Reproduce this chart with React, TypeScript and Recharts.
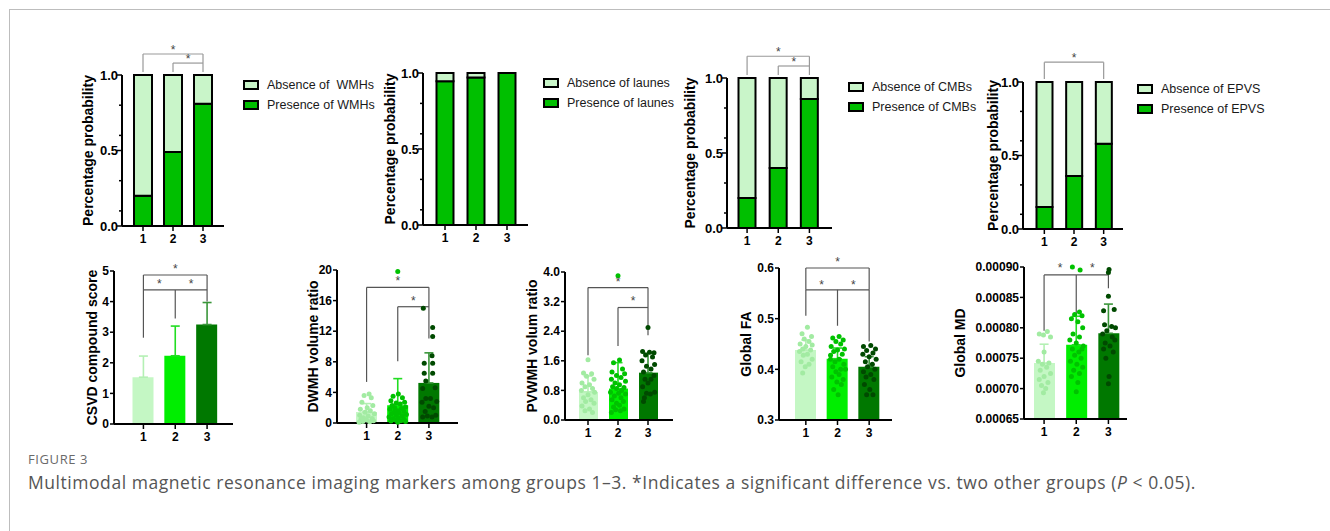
import {
  ComposedChart,
  Bar,
  Scatter,
  ErrorBar,
  XAxis,
  YAxis,
  ReferenceLine,
  ReferenceDot,
  Legend,
  Cell,
} from 'recharts'

const FONT = 'Arial, "Liberation Sans", Helvetica, sans-serif'

const groups = ['1', '2', '3']
const groupPos = [1, 2, 3]

// ---- top row: share of patients with / without each marker ----
const wmhPresence = [0.2, 0.49, 0.81]
const wmhAbsence = [0.8, 0.51, 0.19]
const lacunePresence = [0.945, 0.97, 1.0]
const lacuneAbsence = [0.055, 0.03, 0]
const cmbPresence = [0.2, 0.4, 0.86]
const cmbAbsence = [0.8, 0.6, 0.14]
const epvsPresence = [0.15, 0.36, 0.58]
const epvsAbsence = [0.85, 0.64, 0.42]

const probTicks = [0, 0.1, 0.3, 0.5, 0.6, 0.8, 1]
const probMajor = [0, 0.5, 1]

// ---- bottom row: group means, SD (upper arm only) and individual values ----
const csvdMean = [1.53, 2.23, 3.25]
const csvdSd = [0.69, 0.97, 0.72]

const dwmhMean = [1.44, 2.32, 5.24]
const dwmhSd = [1.1, 3.48, 3.93]
const dwmhG1: [number, number][] = [
  [1.08, 3.8], [0.92, 3.6], [1.15, 3.3], [0.85, 2.7], [1.2, 2.3], [1.02, 2.0], [0.8, 1.8],
  [1.12, 1.6], [0.95, 1.4], [1.25, 1.2], [0.78, 1.0], [1.05, 0.9], [0.9, 0.7], [1.18, 0.6],
  [0.82, 0.5], [1.0, 0.4], [1.22, 0.3], [0.88, 0.2], [1.1, 0.15], [0.76, 0.1],
]
const dwmhG2: [number, number][] = [
  [2.0, 19.8], [2.02, 3.8], [1.85, 3.5], [2.15, 3.3], [1.78, 2.9], [2.22, 2.7], [1.95, 2.6],
  [2.08, 2.5], [1.82, 2.3], [2.25, 2.1], [1.9, 2.0], [2.12, 1.9], [1.75, 1.8], [2.0, 1.6],
  [2.2, 1.5], [1.88, 1.4], [2.05, 1.3], [1.8, 1.2], [2.28, 1.1], [1.95, 1.0], [2.15, 0.9],
  [1.72, 0.8], [2.02, 0.7], [1.85, 0.6], [2.2, 0.5], [1.92, 0.4], [2.1, 0.3], [1.78, 0.25],
  [2.25, 0.2], [2.0, 0.1],
]
const dwmhG3: [number, number][] = [
  [2.82, 15.0], [3.12, 12.5], [3.12, 11.3], [3.1, 8.8], [2.85, 7.8], [3.12, 7.8], [2.85, 6.5],
  [3.12, 6.5], [2.9, 5.5], [3.2, 4.6], [2.8, 4.5], [2.9, 3.2], [3.05, 3.2], [3.25, 2.8],
  [2.78, 2.7], [3.0, 2.2], [3.15, 2.0], [2.88, 1.5], [3.22, 1.0], [2.95, 0.9], [2.8, 0.8],
  [3.1, 0.8],
]

const pvwmhMean = [0.76, 0.85, 1.28]
const pvwmhSd = [0.43, 0.7, 0.52]
const pvwmhG1: [number, number][] = [
  [1.0, 1.63], [0.85, 1.27], [1.12, 1.25], [0.95, 1.18], [1.2, 1.1], [0.8, 1.0], [1.05, 0.95],
  [0.9, 0.9], [1.15, 0.85], [0.78, 0.8], [1.22, 0.75], [1.0, 0.68], [0.85, 0.6], [1.1, 0.55],
  [0.92, 0.5], [1.2, 0.45], [0.8, 0.38], [1.05, 0.3], [0.9, 0.25], [1.15, 0.2],
]
const pvwmhG2: [number, number][] = [
  [2.0, 3.9], [2.05, 1.62], [1.85, 1.55], [2.15, 1.38], [1.8, 1.3], [2.22, 1.25], [1.95, 1.2],
  [2.1, 1.15], [1.78, 1.1], [2.25, 1.05], [1.9, 1.0], [2.05, 0.95], [1.82, 0.9], [2.2, 0.88],
  [1.95, 0.85], [2.12, 0.8], [1.75, 0.75], [2.02, 0.72], [2.25, 0.7], [1.88, 0.65], [2.1, 0.6],
  [1.8, 0.55], [2.18, 0.5], [1.95, 0.45], [2.05, 0.4], [1.85, 0.35], [2.2, 0.3], [1.92, 0.28],
  [2.08, 0.25], [1.78, 0.2],
]
const pvwmhG3: [number, number][] = [
  [3.0, 2.5], [2.82, 1.85], [3.05, 1.83], [3.2, 1.82], [2.92, 1.76], [3.15, 1.7], [2.8, 1.6],
  [3.22, 1.5], [2.95, 1.45], [3.1, 1.38], [2.85, 1.3], [3.2, 1.2], [2.9, 1.1], [3.1, 1.1],
  [3.0, 1.0], [2.82, 0.9], [3.22, 0.75], [2.95, 0.72], [3.08, 0.7], [2.88, 0.6], [2.85, 0.5],
]

const faMean = [0.438, 0.421, 0.405]
const faSd = [0.02, 0.021, 0.02]
const faG1: [number, number][] = [
  [1.05, 0.483], [0.88, 0.47], [1.18, 0.465], [0.95, 0.46], [1.1, 0.455], [0.82, 0.45],
  [1.2, 0.448], [1.0, 0.445], [0.9, 0.44], [1.15, 0.438], [0.8, 0.435], [1.05, 0.43],
  [0.92, 0.428], [1.2, 0.42], [0.85, 0.415], [1.1, 0.41], [0.98, 0.405], [0.9, 0.393],
]
const faG2: [number, number][] = [
  [2.05, 0.465], [1.85, 0.462], [2.18, 0.458], [1.95, 0.455], [2.1, 0.45], [1.8, 0.445],
  [2.22, 0.44], [2.0, 0.438], [1.88, 0.435], [2.15, 0.43], [1.78, 0.428], [2.05, 0.42],
  [1.92, 0.415], [2.2, 0.41], [1.85, 0.405], [2.1, 0.4], [1.95, 0.395], [2.05, 0.39],
  [1.82, 0.385], [2.18, 0.38], [1.98, 0.375], [2.12, 0.37], [1.88, 0.36], [2.02, 0.35],
  [2.25, 0.4], [1.78, 0.42],
]
const faG3: [number, number][] = [
  [3.05, 0.447], [2.82, 0.445], [3.2, 0.44], [2.92, 0.437], [3.12, 0.432], [2.8, 0.43],
  [3.0, 0.425], [3.22, 0.42], [2.88, 0.415], [3.1, 0.41], [2.95, 0.405], [3.18, 0.4],
  [2.82, 0.395], [3.05, 0.39], [2.9, 0.385], [3.15, 0.38], [2.85, 0.37], [3.02, 0.36],
  [2.92, 0.35], [3.12, 0.35],
]

const mdMean = [0.000742, 0.000772, 0.000791]
const mdSd = [0.000031, 0.000047, 0.000048]
const mdG1: [number, number][] = [
  [1.1, 0.000794], [0.85, 0.00079], [0.98, 0.000788], [1.2, 0.000785], [1.0, 0.00076],
  [0.82, 0.000745], [1.15, 0.000742], [0.95, 0.00074], [1.08, 0.000735], [0.88, 0.00073],
  [1.2, 0.000725], [1.0, 0.00072], [0.85, 0.000715], [1.12, 0.00071], [0.92, 0.000705],
  [1.05, 0.0007], [0.98, 0.000693],
]
const mdG2: [number, number][] = [
  [1.88, 0.0009], [2.12, 0.000895], [2.1, 0.000826], [1.95, 0.000822], [2.18, 0.00082],
  [1.85, 0.000815], [2.05, 0.00081], [2.2, 0.0008], [1.9, 0.00079], [2.1, 0.000785],
  [1.8, 0.00078], [2.0, 0.000775], [2.22, 0.00077], [1.88, 0.000765], [2.08, 0.00076],
  [1.95, 0.000755], [2.15, 0.00075], [1.82, 0.000745], [2.02, 0.00074], [2.2, 0.000735],
  [1.92, 0.00073], [2.1, 0.000725], [1.85, 0.00072], [2.05, 0.00071], [2.0, 0.000695],
  [2.18, 0.000765],
]
const mdG3: [number, number][] = [
  [3.02, 0.000896], [3.0, 0.000891], [3.0, 0.000852], [3.18, 0.00083], [2.85, 0.000828],
  [2.88, 0.000805], [3.1, 0.000802], [3.22, 0.0008], [2.95, 0.000795], [2.82, 0.00079],
  [3.12, 0.000785], [3.2, 0.00078], [2.9, 0.000775], [3.05, 0.00077], [2.85, 0.000765],
  [3.15, 0.00076], [2.92, 0.00075], [3.02, 0.00072], [3.0, 0.000708],
]

// significance brackets: [x1, y1, x2, y2] in group / value units, stars: [x, y]
type Seg = [number, number, number, number]
type Star = [number, number]

const wmhSegs: Seg[] = [[1, 1.02, 1, 1.139], [1, 1.139, 3, 1.139], [3, 1.139, 3, 1.02], [2, 1.02, 2, 1.079], [2, 1.079, 3, 1.079]]
const wmhStars: Star[] = [[2, 1.17], [2.5, 1.108]]
const cmbSegs: Seg[] = [[1, 1.02, 1, 1.145], [1, 1.145, 3, 1.145], [3, 1.145, 3, 1.02], [2, 1.02, 2, 1.08], [2, 1.08, 3, 1.08]]
const cmbStars: Star[] = [[2, 1.175], [2.5, 1.11]]
const epvsSegs: Seg[] = [[1, 1.02, 1, 1.135], [1, 1.135, 3, 1.135], [3, 1.135, 3, 1.02]]
const epvsStars: Star[] = [[2, 1.168]]

const csvdSegs: Seg[] = [
  [1, 4.38, 1, 4.87], [1, 4.87, 3, 4.87], [3, 4.87, 3, 4.38],
  [1, 2.82, 1, 4.38], [1, 4.38, 3, 4.38], [2, 3.45, 2, 4.38], [3, 4.0, 3, 4.38],
]
const csvdStars: Star[] = [[2, 5.07], [1.5, 4.57], [2.5, 4.57]]
const dwmhSegs: Seg[] = [[1, 5.37, 1, 17.73], [1, 17.73, 3, 17.73], [3, 17.73, 3, 11.05], [2, 8.08, 2, 15.2], [2, 15.2, 3, 15.2]]
const dwmhStars: Star[] = [[2, 18.6], [2.5, 16.0]]
const pvwmhSegs: Seg[] = [[1, 1.75, 1, 3.58], [1, 3.58, 3, 3.58], [3, 3.58, 3, 2.29], [2, 2.0, 2, 3.04], [2, 3.04, 3, 3.04]]
const pvwmhStars: Star[] = [[2, 3.75], [2.5, 3.21]]
const faSegs: Seg[] = [
  [1, 0.557, 1, 0.6], [1, 0.6, 3, 0.6], [3, 0.6, 3, 0.557],
  [1, 0.506, 1, 0.557], [1, 0.557, 3, 0.557], [2, 0.486, 2, 0.557], [3, 0.455, 3, 0.557],
]
const faStars: Star[] = [[2, 0.612], [1.5, 0.567], [2.5, 0.567]]
const mdSegs: Seg[] = [[1, 0.000795, 1, 0.000887], [1, 0.000887, 3, 0.000887], [2, 0.00082, 2, 0.000887], [3, 0.000865, 3, 0.000887]]
const mdStars: Star[] = [[1.5, 0.000898], [2.5, 0.000898]]

// colours
const PRESENT = '#00BF00'
const ABSENT = '#C9F5C9'
const BAR_FILL = ['#C4F7C4', '#00EE00', '#007800']
const DOT_FILL = ['#A2EBA2', '#00C200', '#004A00']
const ERR_STROKE = ['#B4F0B4', '#22DD22', '#3A963A']

type Frame = { x: number; y: number; w: number; h: number; padL: number; padR: number; bar: number; titleGap: number }

const LEFT = 80
const TOP = 46
const XAXIS_H = 26

const tickStyle = { fontSize: 12, fontWeight: 700, fill: '#000' }
const titleLabel = (value: string, f: Frame, size = 14) => ({
  value,
  angle: -90,
  position: 'insideLeft' as const,
  offset: LEFT - f.titleGap,
  fontSize: size,
  fontWeight: 700,
  fill: '#000',
  style: { textAnchor: 'middle' },
})

function bracketMarks(segs: Seg[], stars: Star[], color: string) {
  return [
    ...segs.map((s, i) => (
      <ReferenceLine
        key={`seg${i}`}
        xAxisId="num"
        segment={[{ x: s[0], y: s[1] }, { x: s[2], y: s[3] }]}
        stroke={color}
        strokeWidth={1.2}
        ifOverflow="visible"
      />
    )),
    ...stars.map((s, i) => (
      <ReferenceDot
        key={`star${i}`}
        xAxisId="num"
        x={s[0]}
        y={s[1]}
        r={0}
        fill="none"
        stroke="none"
        ifOverflow="visible"
        label={{ value: '*', position: 'center', fontSize: 12, fill: '#444' }}
      />
    )),
  ]
}

function ProbTick(props: any) {
  const { x, y, payload } = props
  const ax = x + 6 // tickSize + tickMargin -> back on the axis line
  const major = probMajor.includes(payload.value)
  return (
    <g>
      <line x1={ax - (major ? 5 : 3)} x2={ax} y1={y} y2={y} stroke="#000" strokeWidth={1.5} />
      {major && (
        <text x={ax - 4} y={y} dy={4.5} textAnchor="end" fontSize={13} fontWeight={700} fill="#000">
          {payload.value.toFixed(1)}
        </text>
      )}
    </g>
  )
}

function StackLegend(props: any) {
  const items = props.payload ?? []
  return (
    <div>
      {items.map((it: any) => (
        <div key={it.value} style={{ display: 'flex', alignItems: 'center', height: 20 }}>
          <svg width={16} height={10}>
            <rect x={1} y={1} width={14} height={8} fill={it.color} stroke="#000" strokeWidth={2} />
          </svg>
          <span style={{ marginLeft: 8, fontSize: 12.5, color: '#1a1a1a', whiteSpace: 'pre' }}>{it.value}</span>
        </div>
      ))}
    </div>
  )
}

interface StackPanelProps {
  f: Frame
  presence: number[]
  absence: number[]
  presentName: string
  absentName: string
  segs: Seg[]
  stars: Star[]
  legendAt: [number, number]
}

function StackPanel({ f, presence, absence, presentName, absentName, segs, stars, legendAt }: StackPanelProps) {
  const RIGHT = 170
  const rows = groups.map((g, i) => ({ g, present: presence[i], absent: absence[i] }))
  const left = f.x - LEFT
  const top = f.y - TOP
  return (
    <div style={{ position: 'absolute', left, top }}>
      <ComposedChart
        width={LEFT + f.w + RIGHT}
        height={TOP + f.h + XAXIS_H + 4}
        data={rows}
        margin={{ top: TOP, right: RIGHT, bottom: 4, left: 0 }}
      >
        <XAxis
          xAxisId="cat"
          dataKey="g"
          height={XAXIS_H}
          padding={{ left: f.padL, right: f.padR }}
          tick={tickStyle}
          tickSize={5}
          tickMargin={3}
          tickLine={{ stroke: '#000', strokeWidth: 1.5 }}
          axisLine={{ stroke: '#000', strokeWidth: 2 }}
        />
        <XAxis xAxisId="num" type="number" dataKey="x" domain={[0.5, 3.5]} allowDataOverflow hide padding={{ left: f.padL, right: f.padR }} />
        <YAxis
          width={LEFT}
          domain={[0, 1]}
          ticks={probTicks}
          interval={0}
          tick={(p: any) => <ProbTick {...p} />}
          tickSize={4}
          tickMargin={2}
          tickLine={false}
          axisLine={{ stroke: '#000', strokeWidth: 2 }}
          label={titleLabel('Percentage probability', f)}
        />
        <Bar xAxisId="cat" dataKey="present" name={presentName} stackId="s" fill={PRESENT} stroke="#000" strokeWidth={2} barSize={f.bar} isAnimationActive={false} />
        <Bar xAxisId="cat" dataKey="absent" name={absentName} stackId="s" fill={ABSENT} stroke="#000" strokeWidth={2} barSize={f.bar} isAnimationActive={false} />
        {bracketMarks(segs, stars, '#999')}
        <Legend
          layout="horizontal"
          verticalAlign="middle"
          align="center"
          content={(p: any) => <StackLegend {...p} />}
          wrapperStyle={{ left: legendAt[0] - left, top: legendAt[1] - top, width: 170, height: 40 }}
        />
      </ComposedChart>
    </div>
  )
}

interface DotPanelProps {
  f: Frame
  title: string
  mean: number[]
  sd: number[]
  points: [number, number][][]
  domain: [number, number]
  ticks: number[]
  fmt: (v: number) => string
  segs: Seg[]
  stars: Star[]
}

function DotPanel({ f, title, mean, sd, points, domain, ticks, fmt, segs, stars }: DotPanelProps) {
  const RIGHT = 12
  const rows = groups.map((g, i) => ({ g, mean: mean[i] }))
  return (
    <div style={{ position: 'absolute', left: f.x - LEFT, top: f.y - TOP }}>
      <ComposedChart
        width={LEFT + f.w + RIGHT}
        height={TOP + f.h + XAXIS_H + 4}
        data={rows}
        margin={{ top: TOP, right: RIGHT, bottom: 4, left: 0 }}
      >
        <XAxis
          xAxisId="cat"
          dataKey="g"
          height={XAXIS_H}
          padding={{ left: f.padL, right: f.padR }}
          tick={tickStyle}
          tickSize={5}
          tickMargin={3}
          tickLine={{ stroke: '#000', strokeWidth: 1.5 }}
          axisLine={{ stroke: '#000', strokeWidth: 2 }}
        />
        <XAxis xAxisId="num" type="number" dataKey="x" domain={[0.5, 3.5]} allowDataOverflow hide padding={{ left: f.padL, right: f.padR }} />
        <YAxis
          width={LEFT}
          type="number"
          domain={domain}
          ticks={ticks}
          interval={0}
          tickFormatter={fmt}
          tick={tickStyle}
          tickSize={4}
          tickMargin={1}
          tickLine={{ stroke: '#000', strokeWidth: 1.5 }}
          axisLine={{ stroke: '#000', strokeWidth: 2 }}
          label={titleLabel(title, f)}
        />
        <Bar xAxisId="cat" dataKey="mean" barSize={f.bar} isAnimationActive={false}>
          {groups.map((g, i) => (
            <Cell key={g} fill={BAR_FILL[i]} />
          ))}
        </Bar>
        {groupPos.map((x, i) => (
          <Scatter
            key={`err${i}`}
            xAxisId="num"
            dataKey="y"
            data={[{ x, y: mean[i], err: [0, sd[i]] }]}
            shape={() => <g />}
            isAnimationActive={false}
          >
            <ErrorBar dataKey="err" direction="y" width={4.5} stroke={ERR_STROKE[i]} strokeWidth={1.6} isAnimationActive={false} />
          </Scatter>
        ))}
        {points.map((pts, i) => (
          <Scatter
            key={`pts${i}`}
            xAxisId="num"
            dataKey="y"
            data={pts.map(([x, y]) => ({ x, y }))}
            shape={(p: any) => <circle cx={p.cx} cy={p.cy} r={2.5} fill={DOT_FILL[i]} />}
            isAnimationActive={false}
          />
        ))}
        {bracketMarks(segs, stars, '#555')}
      </ComposedChart>
    </div>
  )
}

const wmhFrame: Frame = { x: 122, y: 75, w: 102, h: 151, padL: 6, padR: 6, bar: 18, titleGap: 34 }
const lacuneFrame: Frame = { x: 423, y: 73, w: 105, h: 152, padL: 6.5, padR: 5.5, bar: 17, titleGap: 33 }
const cmbFrame: Frame = { x: 727, y: 78, w: 105, h: 150, padL: 4.5, padR: 7, bar: 17, titleGap: 37 }
const epvsFrame: Frame = { x: 1023, y: 82, w: 100, h: 147, padL: 6.5, padR: 4.5, bar: 16, titleGap: 30 }

const csvdFrame: Frame = { x: 114, y: 271, w: 119, h: 153, padL: 13.5, padR: 10, bar: 21, titleGap: 22 }
const dwmhFrame: Frame = { x: 337, y: 270, w: 121, h: 153, padL: 14, padR: 13.5, bar: 21, titleGap: 24 }
const pvwmhFrame: Frame = { x: 565, y: 272, w: 108, h: 148, padL: 8, padR: 10, bar: 19, titleGap: 33 }
const faFrame: Frame = { x: 779, y: 268, w: 113, h: 152, padL: 11, padR: 7, bar: 21, titleGap: 33 }
const mdFrame: Frame = { x: 1024, y: 267, w: 103, h: 152, padL: 4, padR: 2.5, bar: 21, titleGap: 64 }

export default function App() {
  return (
    <div style={{ position: 'absolute', left: 0, top: 0, width: 1330, height: 531, background: '#fff', fontFamily: FONT, overflow: 'hidden' }}>
      <div style={{ position: 'absolute', left: 9, top: 9, width: 1330, height: 531, borderTop: '1px solid #bdbdbd', borderLeft: '1px solid #bdbdbd' }} />

      <StackPanel f={wmhFrame} presence={wmhPresence} absence={wmhAbsence} presentName="Presence of WMHs" absentName="Absence of  WMHs" segs={wmhSegs} stars={wmhStars} legendAt={[243, 75]} />
      <StackPanel f={lacuneFrame} presence={lacunePresence} absence={lacuneAbsence} presentName="Presence of launes" absentName="Absence of launes" segs={[]} stars={[]} legendAt={[543, 73]} />
      <StackPanel f={cmbFrame} presence={cmbPresence} absence={cmbAbsence} presentName="Presence of CMBs" absentName="Absence of CMBs" segs={cmbSegs} stars={cmbStars} legendAt={[848, 77]} />
      <StackPanel f={epvsFrame} presence={epvsPresence} absence={epvsAbsence} presentName="Presence of EPVS" absentName="Absence of EPVS" segs={epvsSegs} stars={epvsStars} legendAt={[1137, 79]} />

      <DotPanel f={csvdFrame} title="CSVD compound score" mean={csvdMean} sd={csvdSd} points={[]} domain={[0, 5]} ticks={[0, 1, 2, 3, 4, 5]} fmt={(v) => String(v)} segs={csvdSegs} stars={csvdStars} />
      <DotPanel f={dwmhFrame} title="DWMH volume ratio" mean={dwmhMean} sd={dwmhSd} points={[dwmhG1, dwmhG2, dwmhG3]} domain={[0, 20]} ticks={[0, 4, 8, 12, 16, 20]} fmt={(v) => String(v)} segs={dwmhSegs} stars={dwmhStars} />
      <DotPanel f={pvwmhFrame} title="PVWMH volum ratio" mean={pvwmhMean} sd={pvwmhSd} points={[pvwmhG1, pvwmhG2, pvwmhG3]} domain={[0, 4]} ticks={[0, 0.8, 1.6, 2.4, 3.2, 4]} fmt={(v) => v.toFixed(1)} segs={pvwmhSegs} stars={pvwmhStars} />
      <DotPanel f={faFrame} title="Global FA" mean={faMean} sd={faSd} points={[faG1, faG2, faG3]} domain={[0.3, 0.6]} ticks={[0.3, 0.4, 0.5, 0.6]} fmt={(v) => v.toFixed(1)} segs={faSegs} stars={faStars} />
      <DotPanel f={mdFrame} title="Global MD" mean={mdMean} sd={mdSd} points={[mdG1, mdG2, mdG3]} domain={[0.00065, 0.0009]} ticks={[0.00065, 0.0007, 0.00075, 0.0008, 0.00085, 0.0009]} fmt={(v) => v.toFixed(5)} segs={mdSegs} stars={mdStars} />

      <div style={{ position: 'absolute', left: 28, top: 452, height: 15, lineHeight: '15px', fontFamily: '"Open Sans", sans-serif', fontSize: 13, letterSpacing: 0.6, color: '#6a6a6a' }}>FIGURE 3</div>
      <div style={{ position: 'absolute', left: 28, top: 472, height: 20, lineHeight: '20px', fontFamily: '"Open Sans", sans-serif', fontSize: 17.5, letterSpacing: 0.55, color: '#555', whiteSpace: 'nowrap' }}>
        Multimodal magnetic resonance imaging markers among groups 1–3. *Indicates a significant difference vs. two other groups (<i>P</i> &lt; 0.05).
      </div>
    </div>
  )
}
